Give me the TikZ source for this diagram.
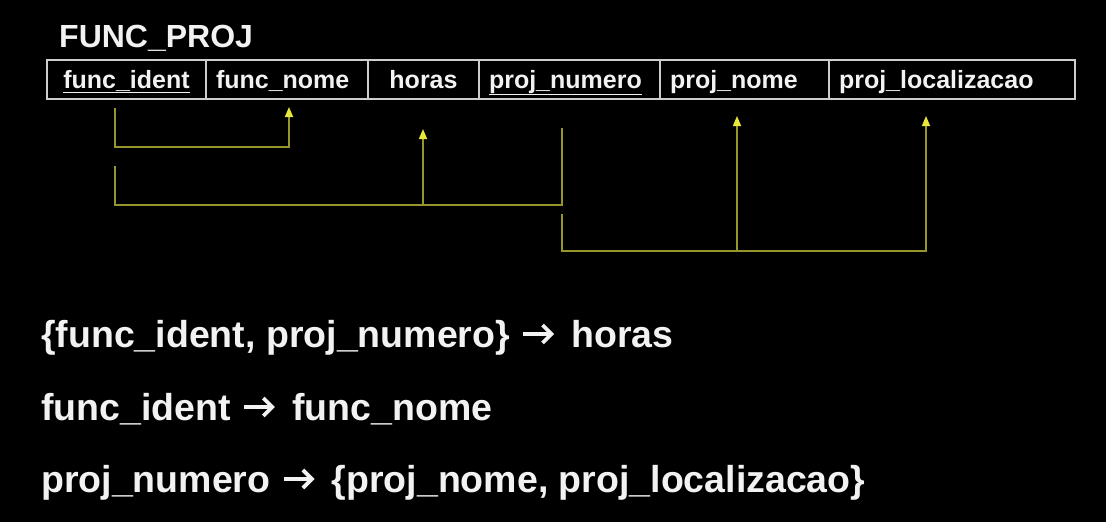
\documentclass[tikz,border=0pt]{standalone}
\usepackage{fontspec}
\setmainfont{Liberation Sans}
\usetikzlibrary{positioning,arrows.meta}

\definecolor{fio}{RGB}{150,150,45}
\definecolor{ponta}{RGB}{232,232,60}
\definecolor{borda}{RGB}{205,205,205}
\definecolor{letra}{RGB}{242,242,242}

\tikzset{
  cel/.style 2 args={draw=borda, line width=1.4pt, text=letra, outer sep=0pt,
    minimum height=39pt, inner xsep=10pt, text width=#1, align=#2,
    text height=20pt, text depth=3pt,
    font=\fontsize{25}{28}\selectfont\bfseries},
  dep/.style={draw=fio, line width=1.5pt},
  seta/.style={dep, -{Triangle[length=10pt,width=8pt,color=ponta]}},
  fd/.style={text=letra, anchor=base west, inner sep=0pt,
    font=\fontsize{37.5}{40}\selectfont\bfseries},
  impl/.style={draw=letra, line width=3.8pt, -{Straight Barb[length=9pt,width=18pt]}}
}

\begin{document}
\begin{tikzpicture}[x=1pt,y=-1pt]
\useasboundingbox[fill=black] (0,0) rectangle (1106,522);

\node[text=letra, anchor=base west, inner sep=0pt,
  font=\fontsize{32}{36}\selectfont\bfseries] (t) at (59,47) {FUNC\_PROJ};

% tabela
\node[cel={139pt}{center}, anchor=north west] (fi) at (47,60) {\underline{func\_ident}};
\node[cel={142pt}{left}, right=0pt of fi] (fn) {func\_nome};
\node[cel={91pt}{center}, right=0pt of fn] (ho) {horas};
\node[cel={161pt}{left}, right=0pt of ho] (pn) {\underline{proj\_numero}};
\node[cel={149pt}{left}, right=0pt of pn] (pm) {proj\_nome};
\node[cel={226pt}{left}, right=0pt of pm] (pl) {proj\_localizacao};

% func_ident -> func_nome
\coordinate (a1) at ([xshift=68pt,yshift=-9pt]fi.south west);
\coordinate (a2) at ([xshift=83pt,yshift=-8pt]fn.south west);
\draw[seta] (a1) |- ++(0,39) -| (a2);

% {func_ident, proj_numero} -> horas
\coordinate (b1) at ([yshift=-58pt]a1);
\coordinate (b2) at ([xshift=83pt,yshift=-29pt]pn.south west);
\coordinate (b3) at ([xshift=55pt,yshift=-30pt]ho.south west);
\draw[dep] (b1) -- ++(0,39) coordinate (b4) -| (b2);
\draw[seta] (b4 -| b3) -- (b3);

% proj_numero -> {proj_nome, proj_localizacao}
\coordinate (c1) at ([yshift=-86pt]b2);
\coordinate (c2) at ([xshift=77pt,yshift=-17pt]pm.south west);
\coordinate (c3) at ([xshift=97pt,yshift=-17pt]pl.south west);
\draw[seta] (c1) |- ++(364,37) coordinate (c4) -- (c3);
\draw[seta] (c4 -| c2) -- (c2);

% dependencias
\node[fd] (d1) at (41,347) {\{func\_ident, proj\_numero\}};
\node[fd] (h1) at ([xshift=61pt]d1.base east) {horas};
\draw[impl] ([xshift=13pt,yshift=13pt]d1.base east) -- ([xshift=-17pt,yshift=13pt]h1.base west);

\node[fd] (d2) at (41,420) {func\_ident};
\node[fd] (h2) at ([xshift=61pt]d2.base east) {func\_nome};
\draw[impl] ([xshift=13pt,yshift=13pt]d2.base east) -- ([xshift=-17pt,yshift=13pt]h2.base west);

\node[fd] (d3) at (41,492) {proj\_numero};
\node[fd] (h3) at ([xshift=61pt]d3.base east) {\{proj\_nome, proj\_localizacao\}};
\draw[impl] ([xshift=13pt,yshift=13pt]d3.base east) -- ([xshift=-17pt,yshift=13pt]h3.base west);

\end{tikzpicture}
\end{document}
